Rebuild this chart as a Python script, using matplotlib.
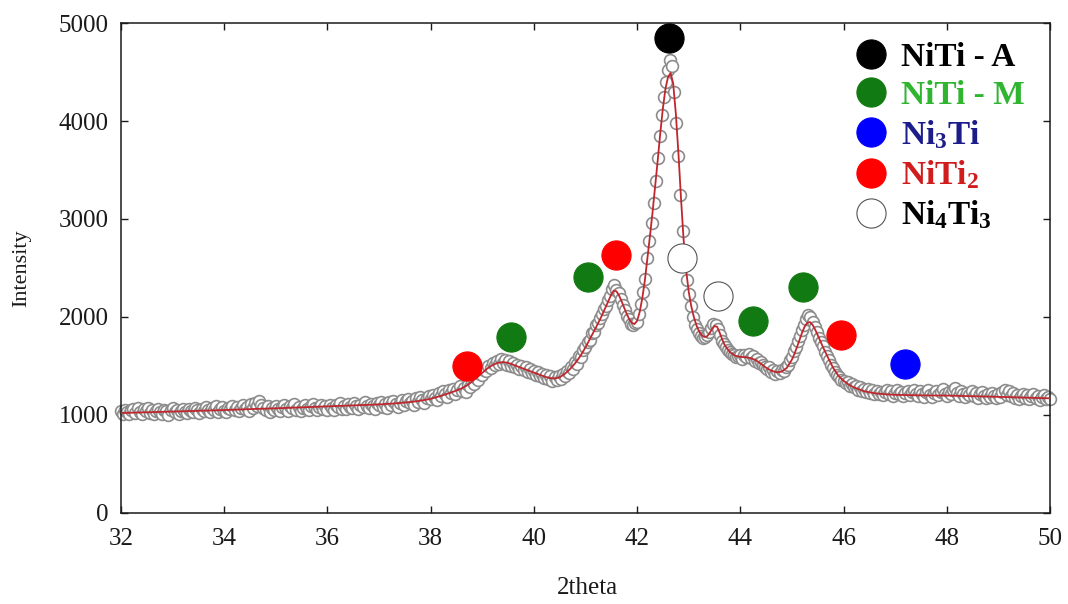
import numpy as np
import matplotlib
matplotlib.use("Agg")
import matplotlib.pyplot as plt
from matplotlib.lines import Line2D

plt.rcParams['font.family'] = ['Liberation Serif', 'DejaVu Serif']
plt.rcParams['mathtext.fontset'] = 'custom'
plt.rcParams['mathtext.rm'] = 'Liberation Serif:bold'
plt.rcParams['mathtext.it'] = 'Liberation Serif:italic:bold'
plt.rcParams['mathtext.bf'] = 'Liberation Serif:bold'

# ---- measured diffraction pattern (2theta step 0.04 deg, 32 -> 50) ----
two_theta_start = 32.0
two_theta_step = 0.04
intensity = [
    # 32.00 - 35.96
    1040, 1010, 1055, 1030, 1005, 1048, 1062, 1025, 1070, 1035,
    1012, 1058, 1040, 1075, 1022, 1050, 1008, 1045, 1066, 1030,
    1015, 1052, 1038, 1003, 1047, 1070, 1028, 1055, 1012, 1040,
    1062, 1035, 1018, 1058, 1045, 1030, 1072, 1050, 1022, 1065,
    1040, 1085, 1048, 1026, 1070, 1055, 1090, 1035, 1062, 1080,
    1045, 1028, 1075, 1060, 1095, 1050, 1082, 1040, 1068, 1100,
    1058, 1085, 1045, 1110, 1072, 1120, 1090, 1145, 1105, 1075,
    1050, 1088, 1035, 1070, 1048, 1092, 1060, 1040, 1085, 1105,
    1062, 1045, 1090, 1070, 1110, 1055, 1082, 1040, 1075, 1098,
    1060, 1050, 1092, 1115, 1070, 1048, 1085, 1105, 1062, 1090,
    # 36.00 - 39.96
    1055, 1098, 1075, 1050, 1102, 1080, 1120, 1065, 1092, 1058,
    1110, 1085, 1068, 1125, 1090, 1060, 1105, 1078, 1130, 1095,
    1070, 1112, 1088, 1062, 1120, 1100, 1135, 1085, 1115, 1072,
    1128, 1098, 1140, 1110, 1082, 1125, 1150, 1105, 1138, 1162,
    1118, 1145, 1100, 1170, 1135, 1180, 1148, 1120, 1175, 1195,
    1160, 1205, 1178, 1150, 1225, 1195, 1240, 1210, 1180, 1255,
    1228, 1270, 1215, 1250, 1295, 1240, 1275, 1230, 1310, 1285,
    1345, 1320, 1380, 1360, 1420, 1405, 1460, 1445, 1500, 1478,
    1530, 1508, 1555, 1520, 1570, 1535, 1560, 1515, 1548, 1500,
    1530, 1485, 1515, 1470, 1500, 1455, 1485, 1440, 1470, 1425,
    # 40.00 - 43.96
    1445, 1410, 1438, 1395, 1420, 1380, 1405, 1365, 1395, 1350,
    1385, 1360, 1400, 1370, 1420, 1395, 1445, 1430, 1490, 1470,
    1540, 1525, 1600, 1590, 1665, 1690, 1745, 1770, 1835, 1850,
    1915, 1935, 1990, 2030, 2085, 2110, 2170, 2215, 2290, 2330,
    2280, 2240, 2185, 2120, 2075, 2010, 1975, 1930, 1915, 1940,
    1950, 2030, 2130, 2250, 2390, 2600, 2780, 2960, 3160, 3390,
    3620, 3850, 4060, 4250, 4400, 4520, 4620, 4560, 4300, 3980,
    3640, 3250, 2880, 2560, 2380, 2230, 2110, 2000, 1920, 1880,
    1840, 1810, 1790, 1800, 1815, 1850, 1890, 1925, 1915, 1880,
    1820, 1760, 1720, 1690, 1660, 1645, 1620, 1610, 1595, 1605,
    # 44.00 - 47.96
    1610, 1575, 1615, 1590, 1620, 1580, 1600, 1555, 1570, 1530,
    1545, 1505, 1490, 1470, 1485, 1440, 1460, 1420, 1445, 1425,
    1455, 1445, 1490, 1510, 1560, 1590, 1650, 1690, 1760, 1810,
    1870, 1920, 1980, 2020, 1995, 1950, 1900, 1845, 1790, 1740,
    1700, 1645, 1600, 1560, 1510, 1475, 1440, 1405, 1390, 1360,
    1350, 1330, 1340, 1300, 1315, 1285, 1300, 1260, 1285, 1245,
    1270, 1230, 1262, 1225, 1250, 1215, 1245, 1210, 1238, 1200,
    1232, 1258, 1215, 1240, 1195, 1228, 1252, 1210, 1235, 1190,
    1225, 1248, 1205, 1232, 1260, 1218, 1195, 1240, 1212, 1185,
    1230, 1255, 1208, 1180, 1222, 1245, 1200, 1230, 1265, 1215,
    # 48.00 - 50.00
    1190, 1235, 1210, 1250, 1280, 1225, 1198, 1240, 1215, 1182,
    1228, 1205, 1245, 1192, 1220, 1178, 1210, 1235, 1195, 1170,
    1215, 1188, 1225, 1198, 1172, 1210, 1185, 1230, 1255, 1205,
    1240, 1195, 1222, 1178, 1205, 1168, 1198, 1215, 1175, 1200,
    1160, 1190, 1210, 1170, 1195, 1158, 1185, 1205, 1165, 1180,
    1165,
]

# ---- profile fit ----
fit_2theta = [
    32.0, 32.5, 33.0, 33.5, 34.0, 34.5, 35.0, 35.5, 36.0, 36.5,
    37.0, 37.3, 37.6, 37.8, 38.0, 38.2, 38.4, 38.5, 38.6, 38.7,
    38.8, 38.9, 39.0, 39.1, 39.2, 39.3, 39.4, 39.5, 39.6, 39.7,
    39.8, 39.9, 40.0, 40.1, 40.2, 40.3, 40.4, 40.5, 40.6, 40.7,
    40.8, 40.9, 41.0, 41.1, 41.2, 41.3, 41.4, 41.45, 41.5, 41.55,
    41.6, 41.65, 41.7, 41.75, 41.8, 41.85, 41.9, 41.95, 42.0, 42.05,
    42.1, 42.15, 42.2, 42.25, 42.3, 42.35, 42.4, 42.45, 42.5, 42.55,
    42.6, 42.65, 42.7, 42.75, 42.8, 42.85, 42.9, 42.95, 43.0, 43.05,
    43.1, 43.15, 43.2, 43.25, 43.3, 43.35, 43.4, 43.45, 43.5, 43.55,
    43.6, 43.65, 43.7, 43.8, 43.9, 44.0, 44.1, 44.2, 44.3, 44.4,
    44.5, 44.6, 44.7, 44.8, 44.9, 45.0, 45.05, 45.1, 45.15, 45.2,
    45.25, 45.3, 45.35, 45.4, 45.45, 45.5, 45.55, 45.6, 45.7, 45.8,
    45.9, 46.0, 46.1, 46.2, 46.4, 46.6, 46.8, 47.0, 47.5, 48.0,
    48.5, 49.0, 49.5, 50.0,
]
fit_intensity = [
    1020, 1028, 1035, 1042, 1050, 1060, 1068, 1078, 1087, 1097,
    1108, 1118, 1132, 1145, 1165, 1195, 1230, 1250, 1272, 1300,
    1340, 1385, 1430, 1475, 1510, 1532, 1540, 1532, 1512, 1492,
    1472, 1452, 1432, 1412, 1393, 1378, 1372, 1385, 1420, 1468,
    1528, 1600, 1690, 1790, 1890, 1995, 2110, 2170, 2230, 2270,
    2262, 2220, 2160, 2095, 2030, 1975, 1940, 1928, 1960, 2050,
    2190, 2370, 2600, 2830, 3070, 3330, 3600, 3880, 4130, 4330,
    4450, 4490, 4380, 4080, 3680, 3220, 2800, 2480, 2260, 2110,
    2000, 1915, 1855, 1815, 1797, 1800, 1830, 1875, 1908, 1900,
    1840, 1770, 1710, 1640, 1605, 1592, 1590, 1580, 1560, 1522,
    1482, 1452, 1436, 1442, 1480, 1565, 1625, 1695, 1770, 1845,
    1905, 1942, 1948, 1920, 1872, 1815, 1755, 1695, 1585, 1480,
    1400, 1350, 1310, 1282, 1242, 1222, 1212, 1206, 1200, 1198,
    1192, 1185, 1177, 1170,
]

# ---- phase identification markers ----
niti_a_x, niti_a_y = [42.62], [4850]
niti_m_x, niti_m_y = [39.55, 41.05, 44.25, 45.22], [1800, 2410, 1955, 2310]
ni3ti_x, ni3ti_y = [47.20], [1520]
niti2_x, niti2_y = [38.70, 41.60, 45.95], [1500, 2635, 1815]
ni4ti3_x, ni4ti3_y = [42.87, 43.57], [2600, 2210]

phase_labels = ['NiTi - A', 'NiTi - M', r'Ni$_\mathrm{3}$Ti',
                r'NiTi$_\mathrm{2}$', r'Ni$_\mathrm{4}$Ti$_\mathrm{3}$']
phase_face = ['black', '#127a12', '#0000ff', '#ff0000', 'white']
phase_edge = ['black', '#127a12', '#0000ff', '#ff0000', '#555555']
label_colors = ['black', '#2fb52f', '#1c1c8a', '#d01c1c', 'black']

x_ticks = [32, 34, 36, 38, 40, 42, 44, 46, 48, 50]
y_ticks = [0, 1000, 2000, 3000, 4000, 5000]

two_theta = two_theta_start + two_theta_step * np.arange(len(intensity))

fig = plt.figure(figsize=(10.68, 6.04), dpi=100)
ax = fig.add_axes([0.1133, 0.1507, 0.8698, 0.8112])

ax.plot(two_theta, intensity, linestyle='none', marker='o', markersize=8.5,
        markerfacecolor='white', markeredgecolor='#8c8c8c',
        markeredgewidth=1.2, zorder=2, clip_on=False)
ax.plot(fit_2theta, fit_intensity, color='#c0262d', linewidth=1.3, zorder=3)

phase_points = [(niti_a_x, niti_a_y), (niti_m_x, niti_m_y), (ni3ti_x, ni3ti_y),
                (niti2_x, niti2_y), (ni4ti3_x, ni4ti3_y)]
handles = []
for (px, py), fc, ec, lab in zip(phase_points, phase_face, phase_edge, phase_labels):
    ax.plot(px, py, linestyle='none', marker='o', markersize=21,
            markerfacecolor=fc, markeredgecolor=ec, markeredgewidth=0.8,
            zorder=4, clip_on=False)
    handles.append(Line2D([], [], linestyle='none', marker='o', markersize=21,
                          markerfacecolor=fc, markeredgecolor=ec,
                          markeredgewidth=0.8, label=lab))

leg = ax.legend(handles=handles, loc='upper left', bbox_to_anchor=(0.789, 0.962),
                frameon=False, borderpad=0, borderaxespad=0, handlelength=1.0,
                handletextpad=0.4, labelspacing=0.22,
                prop={'family': 'Liberation Serif', 'weight': 'bold', 'size': 24})
for txt, c in zip(leg.get_texts(), label_colors):
    txt.set_color(c)

ax.set_xlim(32, 50)
ax.set_ylim(0, 5000)
ax.set_xticks(x_ticks)
ax.set_yticks(y_ticks)
ax.tick_params(direction='in', length=5, width=1.0, top=True, right=True,
               labelsize=18, colors='#1a1a1a')
ax.tick_params(axis='x', pad=11)
ax.tick_params(axis='y', pad=9)
for sp in ax.spines.values():
    sp.set_linewidth(1.1)
    sp.set_color('#1a1a1a')

ax.set_xlabel('2theta', fontsize=18, color='#1a1a1a')
ax.set_ylabel('Intensity', fontsize=16, color='#1a1a1a')
ax.xaxis.set_label_coords(0.5016, -0.13)
ax.yaxis.set_label_coords(-0.097, 0.5)

fig.savefig('out.png', dpi=100)
